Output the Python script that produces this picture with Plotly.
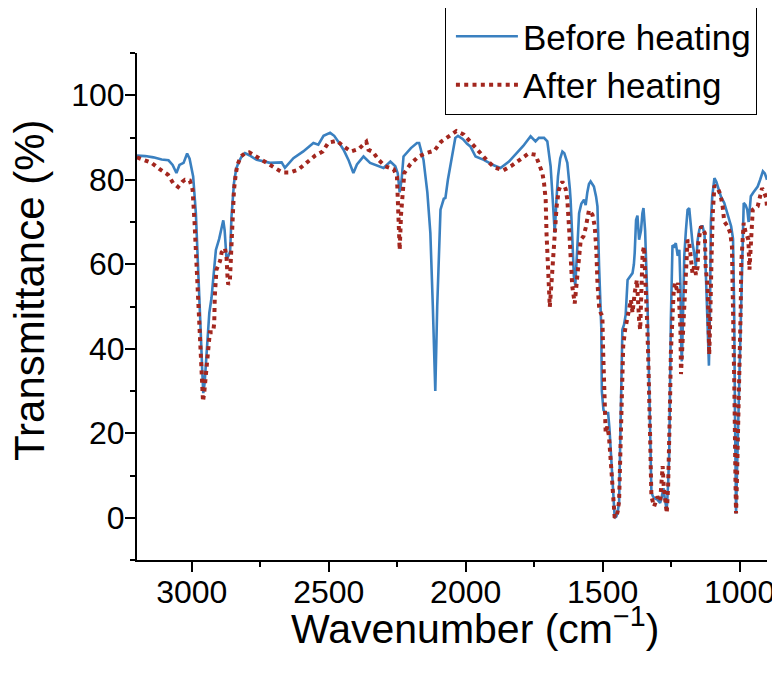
import plotly.graph_objects as go

# ---- Data: "Before heating" spectrum ----
wn_before = [3200, 3170, 3140, 3110, 3085, 3070, 3056, 3045, 3030, 3017, 3008, 2995, 2985, 2975,
             2968, 2962, 2958, 2953, 2946, 2940, 2936, 2928, 2920, 2912, 2900, 2890, 2885, 2880,
             2873, 2866, 2860, 2855, 2846, 2838, 2830, 2818, 2806, 2790, 2763, 2714, 2672, 2660,
             2645, 2629, 2593, 2556, 2538, 2519, 2495, 2480, 2460, 2446, 2428, 2410, 2397, 2373,
             2349, 2318, 2300, 2275, 2257, 2248, 2241, 2234, 2227, 2200, 2178, 2170, 2160, 2154,
             2140, 2129, 2120, 2111, 2104, 2097, 2092, 2080, 2074, 2065, 2056, 2045, 2038, 2028,
             2010, 1995, 1983, 1964, 1934, 1900, 1873, 1842, 1812, 1790, 1763, 1745, 1733, 1714,
             1702, 1690, 1682, 1675, 1668, 1663, 1655, 1647, 1640, 1629, 1620, 1617, 1610, 1605,
             1600, 1595, 1590, 1586, 1578, 1568, 1562, 1556, 1550, 1544, 1537, 1532, 1524, 1519,
             1513, 1508, 1505, 1503, 1497, 1490, 1480, 1475, 1470, 1465, 1460, 1456, 1450, 1445,
             1440, 1436, 1433, 1428, 1422, 1416, 1409, 1400, 1391, 1386, 1383, 1378, 1373, 1367,
             1360, 1355, 1351, 1345, 1340, 1336, 1333, 1330, 1326, 1322, 1316, 1308, 1300, 1290,
             1284, 1278, 1272, 1266, 1261, 1257, 1254, 1251, 1245, 1239, 1233, 1226, 1220, 1216,
             1213, 1211, 1208, 1204, 1202, 1196, 1190, 1184, 1178, 1172, 1166, 1160, 1153, 1147,
             1140, 1135, 1128, 1124, 1119, 1115, 1112, 1108, 1105, 1100, 1092, 1085, 1080, 1068,
             1056, 1044, 1031, 1024, 1020, 1017, 1013, 1009, 1004, 1000, 996, 992, 989, 985,
             978, 972, 967, 963, 959, 950, 934, 925, 915, 908, 903, 900]
t_before = [85.7, 85.6, 85.3, 84.8, 84.6, 83.5, 81.6, 83.5, 84.0, 86.2, 85.0, 80.8, 72, 58,
            45, 35, 29.5, 32, 40, 44, 48.5, 52, 58, 63.4, 66, 69.5, 70.4, 68,
            61.1, 62, 63, 71.3, 79.2, 82.5, 84, 85.5, 86.3, 85.8, 84.7, 84, 84.1, 82.8,
            84, 85.1, 86.7, 88.7, 88.3, 90.4, 91.1, 90.4, 88.5, 87.1, 84.7, 81.6, 83.6, 85.5,
            84, 83.2, 82.8, 84.3, 83.2, 81.5, 77, 80, 85.5, 87.5, 88.7, 88.7, 86.5, 84.7,
            77, 67.4, 50, 30, 50, 67, 72.9, 75.5, 75.7, 80, 83.2, 88, 89.9, 90.4,
            89.6, 88.5, 87.9, 85.5, 84.7, 83.5, 82.8, 84.3, 86.3, 88, 90.3, 89.1, 89.9, 89.9,
            89.1, 83.2, 75, 67.5, 76, 80.8, 85, 86.7, 86.3, 84, 78, 75.3, 65, 57.1,
            55, 60, 67, 72.1, 74.3, 75.3, 74, 77, 79, 79.6, 79, 78.4, 76, 73.7,
            59.5, 50, 45, 30, 25.5, 24.8, 24.8, 21, 15.3, 8, 2, 0, 0.3, 1.5,
            3.5, 20, 31, 44.5, 45.7, 48, 56.3, 57, 57.9, 60, 62.7, 70.5, 71.5, 65.8,
            68, 72, 73.3, 68, 60, 50, 40, 31, 15, 6, 5, 4.5, 4.3, 3.5,
            5, 7, 4, 1.9, 8, 15.3, 30, 46.9, 64.5, 64.2, 65, 62, 63.4, 55,
            40, 37, 44, 56, 62, 68, 72.9, 73.3, 69, 65, 62.7, 59.5, 65.8, 68.2,
            69, 69, 67, 60, 50, 40, 36, 50, 70, 76, 80.4, 79.5, 78.4, 76,
            74.5, 72.1, 69, 66, 50, 25, 1, 12, 25, 35, 50, 62, 67.4, 74.5,
            74, 72.9, 70, 73, 76.1, 77, 78.4, 80, 82, 81.5, 80.8, 80]

# ---- Data: "After heating" spectrum ----
wn_after = [3200, 3178, 3147, 3117, 3087, 3068, 3050, 3035, 3025, 3007, 2997, 2990, 2983, 2974,
            2968, 2963, 2959, 2954, 2949, 2942, 2934, 2922, 2918, 2916, 2910, 2897, 2891, 2879,
            2873, 2870, 2867, 2861, 2858, 2855, 2851, 2846, 2839, 2833, 2821, 2805, 2790, 2759,
            2729, 2699, 2668, 2641, 2611, 2580, 2550, 2522, 2501, 2470, 2446, 2418, 2390, 2363,
            2355, 2339, 2318, 2294, 2263, 2251, 2245, 2241, 2236, 2229, 2224, 2202, 2172, 2144,
            2114, 2090, 2062, 2034, 2007, 1979, 1952, 1924, 1895, 1863, 1833, 1802, 1771, 1745,
            1733, 1720, 1714, 1708, 1705, 1700, 1693, 1686, 1678, 1668, 1660, 1647, 1635, 1629,
            1623, 1617, 1611, 1602, 1596, 1589, 1580, 1570, 1562, 1550, 1537, 1529, 1523, 1519,
            1513, 1507, 1501, 1498, 1495, 1491, 1489, 1483, 1477, 1470, 1465, 1460, 1456, 1450,
            1445, 1440, 1436, 1431, 1425, 1418, 1412, 1406, 1397, 1391, 1383, 1375, 1367, 1363,
            1358, 1354, 1349, 1342, 1338, 1334, 1330, 1327, 1324, 1322, 1312, 1300, 1290, 1285,
            1281, 1277, 1270, 1266, 1261, 1257, 1254, 1251, 1247, 1241, 1236, 1229, 1224, 1219,
            1216, 1214, 1211, 1208, 1202, 1196, 1192, 1190, 1184, 1178, 1172, 1166, 1159, 1153,
            1151, 1141, 1135, 1127, 1124, 1117, 1113, 1111, 1108, 1106, 1102, 1098, 1092, 1080,
            1070, 1062, 1056, 1044, 1034, 1028, 1023, 1019, 1015, 1013, 1010, 1005, 1000, 996,
            994, 989, 985, 979, 968, 964, 960, 957, 952, 934, 926, 918, 910, 903, 900]
t_after = [85.3, 84.7, 84, 82.5, 81.2, 79.2, 78.3, 79.5, 80, 79.8, 77.6, 70, 59.5, 47.7,
           39.8, 33.5, 27.5, 30, 33.5, 40.6, 43.9, 43.9, 46.1, 52.4, 58.7, 60.7, 62.8, 63.8,
           61.5, 57.5, 55.2, 55.9, 60.3, 66.6, 72.9, 77.6, 81.6, 83.6, 85.5, 86.3, 86.5, 85.2,
           84, 82.9, 81.7, 81.7, 82.4, 84.1, 85.7, 86.7, 88.8, 89.2, 87.9, 86.7, 87.3, 89,
           87.1, 86.6, 84.7, 83.2, 82.5, 80.8, 72.9, 63.4, 71.8, 79.6, 81.6, 83.7, 85.5, 86.3,
           86.9, 89, 90.4, 91.5, 90.7, 88.7, 86.5, 84.7, 82.9, 82.2, 83.3, 84.7, 86.2, 85.9,
           83.6, 81.6, 79.2, 75.3, 67.4, 59.5, 49.9, 56.3, 65.8, 73.7, 77.6, 79.6, 77.8, 75.3,
           69, 61.9, 54.8, 50.7, 54.8, 61.1, 65.8, 66.6, 68.6, 72.8, 71.7, 69, 63.4, 55.6,
           50, 48.5, 47.7, 39, 29.5, 24, 20.1, 21.6, 19.3, 13, 7, 2, 0, 0.3,
           1.5, 4, 15.3, 31.1, 40.6, 44.5, 46.1, 48.5, 51.6, 48.5, 53.2, 56.3, 46.9, 44.5,
           55, 62.7, 64.2, 54.8, 46.9, 39, 31.1, 20.1, 10.6, 5, 2.7, 5, 3.9, 7.4,
           12.2, 7.4, 1.9, 1.1, 7.4, 15.3, 27.2, 39, 46.9, 53.2, 55.6, 54, 55.6, 50.8,
           44.5, 34, 38.2, 40.6, 46.9, 54.8, 64.2, 65.8, 65, 61.1, 57.9, 59.5, 57.5, 59.5,
           65, 69, 68.2, 67.4, 59.5, 54.8, 45.3, 38.6, 45, 54.8, 62.7, 72, 78.6, 78,
           76.5, 73.7, 70.1, 69, 67.4, 64.2, 50, 30, 8, 1, 8, 20, 35, 49.3,
           60.3, 66, 69.8, 67.8, 65.8, 58.7, 65, 69.8, 72.9, 73.7, 76.1, 78, 77, 75.7, 73.7]

series_names = ["Before heating", "After heating"]
x_ticks = [3000, 2500, 2000, 1500, 1000]
y_ticks = [0, 20, 40, 60, 80, 100]
x_title = "Wavenumber (cm<sup>−1</sup>)"
y_title = "Transmittance (%)"

FONT = "Liberation Sans, Arial, Helvetica, sans-serif"

fig = go.Figure()
fig.add_trace(go.Scatter(x=wn_before, y=t_before, mode="lines", name=series_names[0],
                         line=dict(color="#3a80c0", width=2.6)))
fig.add_trace(go.Scatter(x=wn_after, y=t_after, mode="lines", name=series_names[1],
                         line=dict(color="#a3261e", width=4, dash="4px,4.3px")))

axis_common = dict(showline=True, linecolor="black", linewidth=2, ticks="outside",
                   ticklen=10, tickwidth=2, tickcolor="black", showgrid=False,
                   zeroline=False, mirror=False,
                   tickfont=dict(family=FONT, size=32, color="black"))

fig.update_xaxes(range=[3200, 900], tickvals=x_ticks, ticktext=[str(v) for v in x_ticks],
                 minor=dict(ticks="outside", ticklen=5, tickwidth=2, tickcolor="black", dtick=250, tick0=1000),
                 ticklabelstandoff=-7,
                 **axis_common)
fig.update_yaxes(range=[-10, 110], tickvals=y_ticks, ticktext=[str(v) for v in y_ticks],
                 minor=dict(ticks="outside", ticklen=5, tickwidth=2, tickcolor="black", dtick=10, tick0=-10),
                 ticklabelstandoff=-6,
                 **axis_common)

# axis titles placed as annotations (paper coordinates)
fig.add_annotation(text=x_title, xref="paper", yref="paper", x=0.5365, y=-0.13,
                   xanchor="center", yanchor="middle", showarrow=False,
                   font=dict(family=FONT, size=41, color="black"))
fig.add_annotation(text=y_title, xref="paper", yref="paper", x=-0.1714, y=0.5325,
                   xanchor="center", yanchor="middle", showarrow=False, textangle=-90,
                   font=dict(family=FONT, size=42, color="black"))

fig.update_layout(
    width=780, height=677,
    margin=dict(l=129, r=21, t=45, b=125, autoexpand=False),
    plot_bgcolor="white", paper_bgcolor="white",
    font=dict(family=FONT, color="black"),
    legend=dict(x=0.984, y=1.0927, xanchor="right", yanchor="top",
                bordercolor="black", borderwidth=1, bgcolor="white",
                font=dict(family=FONT, size=35, color="black"),
                itemwidth=62, indentation=5, tracegroupgap=0),
    showlegend=True,
)

fig.write_html("out.html")
